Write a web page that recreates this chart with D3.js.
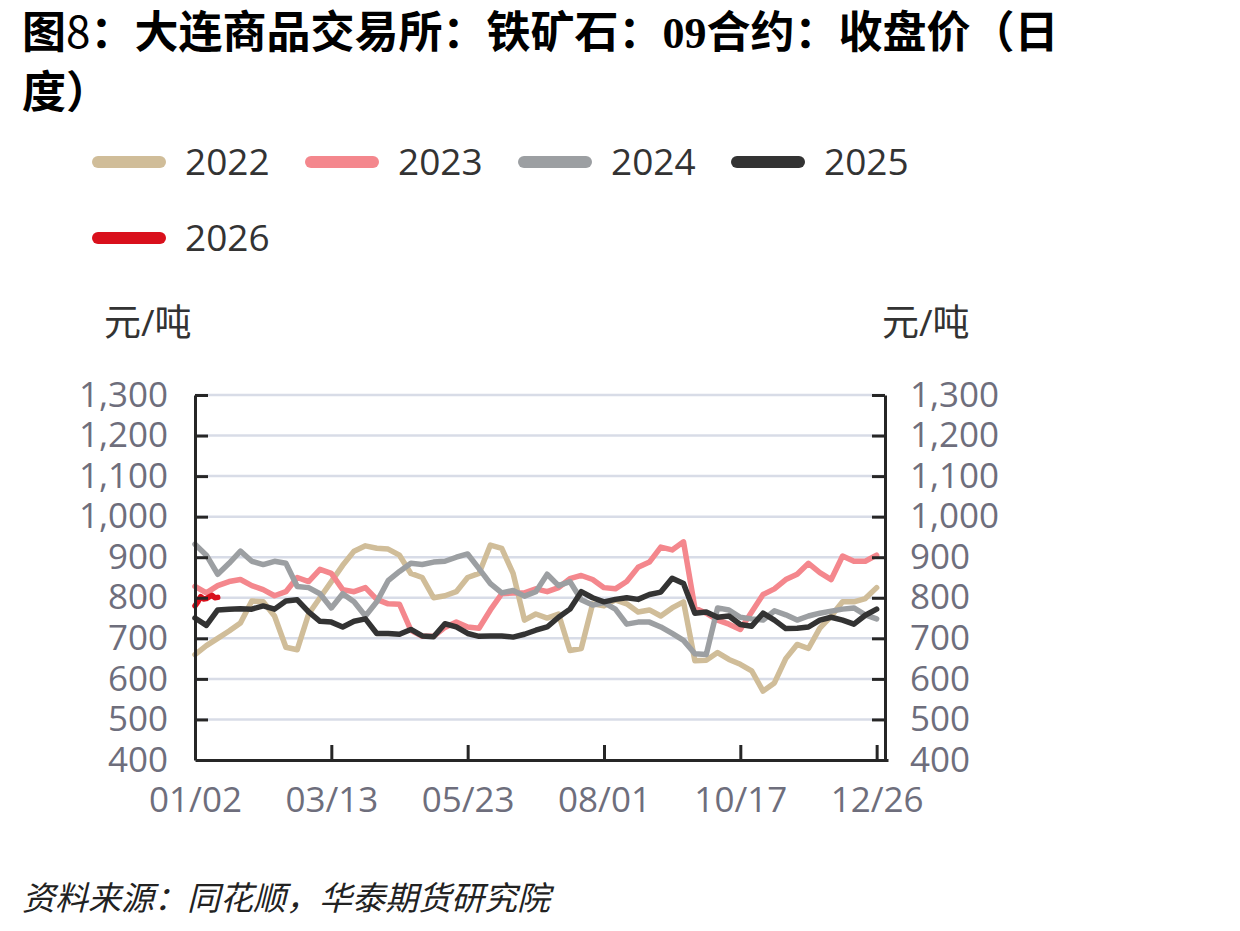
<!DOCTYPE html>
<html lang="zh">
<head>
	<meta charset="utf-8">
	<title>铁矿石09合约收盘价</title>
	<script src="https://cdn.jsdelivr.net/npm/d3@7"></script>
	<style>
		body { margin: 0; background: #fff; }
		svg text { font-family: "Open Sans", "Noto Sans CJK SC", sans-serif; }
	</style>
</head>
<body>
	<script>
		var w = 1240;
		var h = 931;

		// chart values, sampled every 4 trading days (2026 daily)
		var years = ["2022", "2023", "2024", "2025", "2026"];
		var colors = ["#d0bd99", "#f4878d", "#9c9fa2", "#333333", "#d9101c"];

		var v2022 = [660, 682, 700, 718, 738, 792, 790, 755, 678, 672, 760, 800, 840, 880, 915, 928,
			922, 920, 905, 860, 850, 800, 805, 815, 850, 860, 930, 922, 860, 745, 760,
			750, 760, 670, 675, 785, 780, 795, 785, 765, 770, 755, 775, 790, 645, 646,
			665, 648, 636, 620, 570, 590, 650, 685, 675, 725, 755, 790, 790, 798, 825];
		var v2023 = [828, 812, 830, 840, 845, 830, 820, 805, 815, 850, 840, 870, 860, 820, 815, 825,
			796, 785, 784, 720, 705, 705, 727, 740, 728, 725, 770, 810, 812, 812, 822,
			815, 825, 847, 855, 845, 825, 822, 840, 875, 888, 925, 918, 938, 775, 762,
			745, 735, 722, 765, 808, 822, 845, 858, 885, 862, 845, 903, 890, 890, 905];
		var v2024 = [932, 905, 858, 885, 915, 890, 882, 890, 885, 828, 825, 810, 775, 810, 790, 755,
			790, 842, 865, 885, 882, 888, 890, 900, 908, 872, 835, 812, 818, 804, 815,
			858, 830, 840, 795, 782, 788, 772, 735, 740, 740, 728, 712, 695, 662, 660,
			775, 770, 752, 748, 745, 768, 758, 745, 755, 762, 767, 772, 775, 758, 748];
		var v2025 = [750, 732, 770, 772, 773, 772, 780, 772, 792, 795, 765, 742, 740, 728, 742, 748,
			712, 712, 710, 722, 706, 704, 736, 728, 712, 705, 706, 706, 703, 710, 720,
			728, 752, 772, 815, 800, 790, 796, 800, 796, 808, 814, 848, 835, 762, 765,
			752, 755, 734, 730, 762, 745, 724, 725, 728, 745, 752, 745, 735, 757, 772];
		var v2026 = [780, 790, 803, 797, 798, 802, 806, 800, 801];

		var seriesValues = [v2022, v2023, v2024, v2025, v2026];
		var seriesStep = [4, 4, 4, 4, 1];

		var xTickIdx = [0, 48, 96, 144, 192, 240];
		var xTickLabels = ["01/02", "03/13", "05/23", "08/01", "10/17", "12/26"];
		var yTicks = [400, 500, 600, 700, 800, 900, 1000, 1100, 1200, 1300];

		var plotL = 195, plotR = 885, plotT = 395, plotB = 760;

		var x = d3.scaleLinear().domain([0, 244]).range([plotL, 888]);
		var y = d3.scaleLinear().domain([400, 1300]).range([plotB, plotT]);

		var svg = d3.select("body").append("svg")
			.attr("width", w).attr("height", h);

		// title
		var title = svg.append("text")
			.attr("x", 22).attr("y", 48)
			.style("font-family", "'Noto Sans CJK SC', sans-serif")
			.style("font-size", "44px").style("font-weight", "bold").attr("fill", "#000");
		title.append("tspan").text("图");
		title.append("tspan").style("font-weight", "normal").text("8");
		title.append("tspan").text("：大连商品交易所：铁矿石：");
		title.append("tspan").style("font-family", "'Liberation Serif', serif").text("09");
		title.append("tspan").text("合约：收盘价（日");
		svg.append("text")
			.attr("x", 22).attr("y", 108)
			.style("font-family", "'Noto Sans CJK SC', sans-serif")
			.style("font-size", "44px").style("font-weight", "bold").attr("fill", "#000")
			.text("度）");

		// legend
		var legendPos = [[92, 162], [305, 162], [518, 162], [731, 162], [92, 238]];
		years.forEach(function(yr, i) {
			var g = svg.append("g").attr("transform", "translate(" + legendPos[i][0] + "," + legendPos[i][1] + ")");
			g.append("line")
				.attr("x1", 6).attr("x2", 68).attr("y1", 0).attr("y2", 0)
				.attr("stroke", colors[i]).attr("stroke-width", 12).attr("stroke-linecap", "round");
			g.append("text")
				.attr("x", 93).attr("y", 13)
				.style("font-size", "37px").attr("fill", "#333")
				.text(yr);
		});

		// units
		svg.append("text").attr("x", 104).attr("y", 336)
			.style("font-size", "37px").attr("fill", "#333").text("元/吨");
		svg.append("text").attr("x", 882).attr("y", 336)
			.style("font-size", "37px").attr("fill", "#333").text("元/吨");

		// gridlines
		svg.append("g").selectAll("line")
			.data(yTicks.slice(1))
			.enter().append("line")
			.attr("x1", plotL).attr("x2", plotR)
			.attr("y1", function(d) { return y(d); })
			.attr("y2", function(d) { return y(d); })
			.attr("stroke", "#d8dce7").attr("stroke-width", 2.5);

		// lines
		var line = d3.line()
			.x(function(d) { return x(d[0]); })
			.y(function(d) { return y(d[1]); });

		seriesValues.forEach(function(vals, i) {
			var pts = vals.map(function(v, j) { return [j * seriesStep[i], v]; });
			svg.append("path")
				.datum(pts)
				.attr("d", line)
				.attr("fill", "none")
				.attr("stroke", colors[i])
				.attr("stroke-width", 5.5)
				.attr("stroke-linejoin", "round")
				.attr("stroke-linecap", "round");
		});

		// axes
		var fmt = d3.format(",");
		var yLeft = svg.append("g")
			.attr("transform", "translate(" + plotL + ",0)")
			.call(d3.axisLeft(y).tickValues(yTicks).tickFormat(fmt)
				.tickSizeInner(-13).tickSizeOuter(0).tickPadding(27));
		var yRight = svg.append("g")
			.attr("transform", "translate(" + plotR + ",0)")
			.call(d3.axisRight(y).tickValues(yTicks).tickFormat(fmt)
				.tickSizeInner(-13).tickSizeOuter(0).tickPadding(25));
		var xAxis = svg.append("g")
			.attr("transform", "translate(0," + plotB + ")")
			.call(d3.axisBottom(x).tickValues(xTickIdx)
				.tickFormat(function(d, i) { return xTickLabels[i]; })
				.tickSizeInner(-15).tickSizeOuter(0).tickPadding(27));

		[yLeft, yRight, xAxis].forEach(function(ax) {
			ax.select(".domain").attr("stroke", "#262626").attr("stroke-width", 3);
			ax.selectAll(".tick line").attr("stroke", "#262626").attr("stroke-width", 3);
			ax.selectAll(".tick text")
				.style("font-family", "'Open Sans', sans-serif")
				.style("font-size", "35px").attr("fill", "#6e6e7c");
		});
		// no tick marks on the corners
		yRight.selectAll(".tick").filter(function(d) { return d === 400; }).select("line").remove();
		yLeft.selectAll(".tick").filter(function(d) { return d === 400; }).select("line").remove();
		xAxis.selectAll(".tick").filter(function(d) { return d === 0; }).select("line").remove();

		// source
		svg.append("text")
			.attr("x", 22).attr("y", 910)
			.style("font-family", "'Noto Sans CJK SC', sans-serif")
			.style("font-size", "33px").style("font-style", "italic").attr("fill", "#222")
			.text("资料来源：同花顺，华泰期货研究院");
	</script>
</body>
</html>
